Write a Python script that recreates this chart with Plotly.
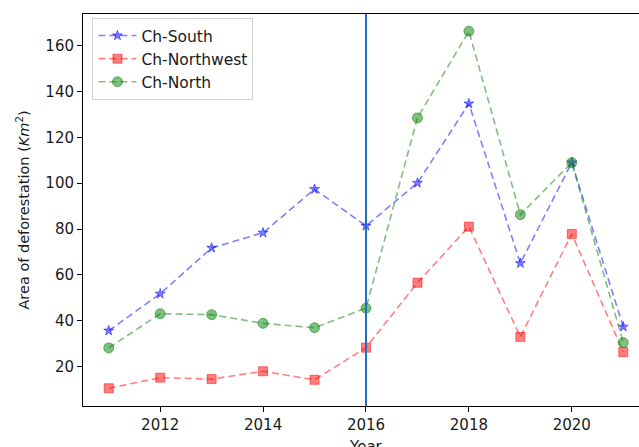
import plotly.graph_objects as go

years = [2011, 2012, 2013, 2014, 2015, 2016, 2017, 2018, 2019, 2020, 2021]
ch_south = [35.7, 51.8, 71.8, 78.4, 97.4, 81.4, 100.1, 134.7, 65.1, 109.0, 37.4]
ch_northwest = [10.6, 15.2, 14.6, 18.0, 14.3, 28.3, 56.6, 81.1, 33.0, 77.9, 26.4]
ch_north = [28.2, 43.1, 42.7, 38.9, 37.0, 45.5, 128.5, 166.3, 86.3, 109.0, 30.5]
x_ticks = [2012, 2014, 2016, 2018, 2020]
y_ticks = [20, 40, 60, 80, 100, 120, 140, 160]
vline_year = 2016

FONT = "DejaVu Sans"
fig = go.Figure()

series = [
    ("Ch-South", ch_south, "rgba(0,0,255,0.5)", "star", 7.5),
    ("Ch-Northwest", ch_northwest, "rgba(255,0,0,0.5)", "square", 9),
    ("Ch-North", ch_north, "rgba(0,128,0,0.5)", "circle", 10),
]
for name, vals, col, sym, sz in series:
    fig.add_trace(go.Scatter(
        x=years, y=vals, name=name, mode="lines+markers",
        line=dict(color=col, width=1.6, dash="7px,4px"),
        marker=dict(symbol=sym, size=sz, color=col, line=dict(color=col, width=1)),
    ))

fig.add_vline(x=vline_year, line=dict(color="#1f70c0", width=2))

# x-axis title placed as an annotation below the tick labels (partly cropped, as in the reference)
fig.add_annotation(text="Year", xref="x", yref="paper", x=vline_year, y=-0.076,
                   xanchor="center", yanchor="top", showarrow=False,
                   font=dict(family=FONT, size=15, color="#1a1a1a"))

fig.update_layout(
    width=639, height=447,
    margin=dict(l=82.5, r=0, t=14, b=40.5, autoexpand=False),
    paper_bgcolor="white", plot_bgcolor="white",
    font=dict(family=FONT, size=15, color="#1a1a1a"),
    showlegend=True,
    legend=dict(
        x=0.017, y=0.99, xanchor="left", yanchor="top",
        bgcolor="rgba(255,255,255,0.8)", bordercolor="#d0d0d0", borderwidth=1,
        font=dict(family=FONT, size=15.5, color="#1a1a1a"),
        tracegroupgap=0, itemwidth=38,
    ),
    xaxis=dict(
        range=[2010.5, 2021.306], tickvals=x_ticks, ticktext=[str(t) for t in x_ticks],
        showgrid=False, zeroline=False, showline=True, linecolor="black", linewidth=1,
        mirror=True, ticks="outside", ticklen=5, tickcolor="black", automargin=False,
    ),
    yaxis=dict(
        range=[2.86, 173.8], tickvals=y_ticks,
        showgrid=False, zeroline=False, showline=True, linecolor="black", linewidth=1,
        ticks="outside", ticklen=5, tickcolor="black", automargin=False,
        title=dict(text="Area of deforestation (<i>Km</i><sup>2</sup>)", standoff=12,
                   font=dict(size=14.5)),
    ),
)

fig.write_html("out.html", config={"displayModeBar": False},
               post_script="document.body.style.margin='0';")
